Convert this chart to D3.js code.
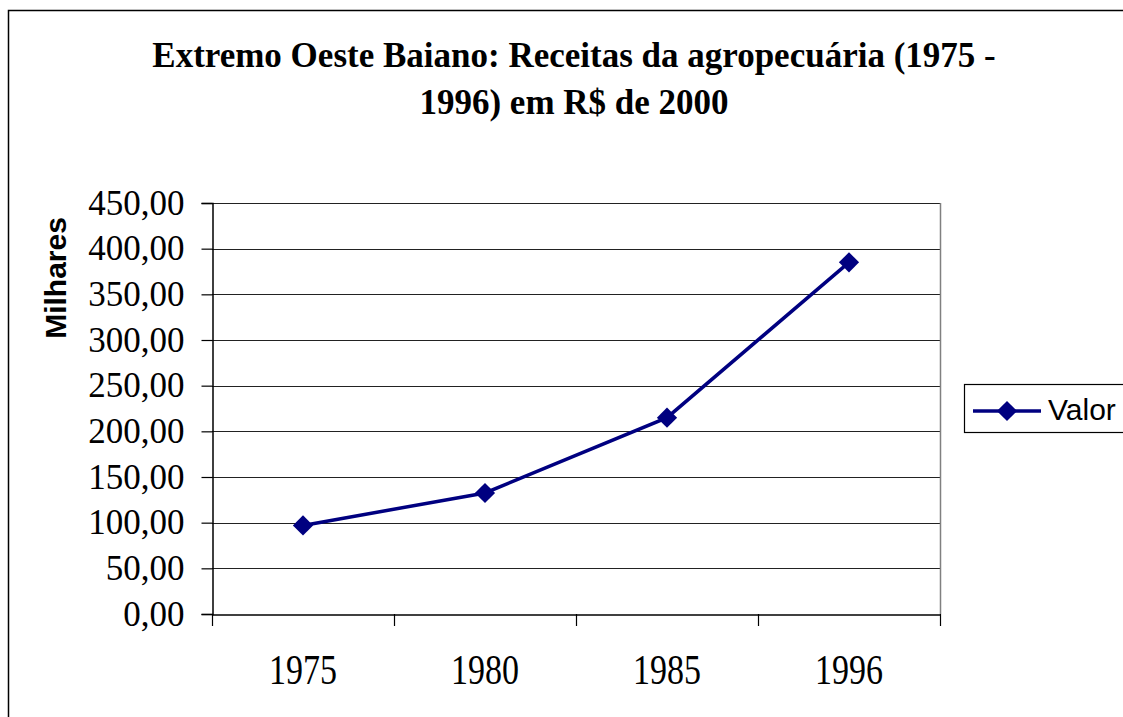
<!DOCTYPE html>
<html>
<head>
<meta charset="utf-8">
<script src="https://cdn.jsdelivr.net/npm/d3@7"></script>
<style>
  body { margin: 0; background: #fff; }
  svg { display: block; }
</style>
</head>
<body>
<svg id="chart"></svg>
<script>
// dados (milhares de R$ de 2000)
const anos = ["1975", "1980", "1985", "1996"];
const valores = [97, 132.5, 215, 385];
const yTicks = [0, 50, 100, 150, 200, 250, 300, 350, 400, 450];
const tituloLinhas = ["Extremo Oeste Baiano: Receitas da agropecuária (1975 -", "1996) em R$ de 2000"];
const serieNome = "Valor";
const eixoY = "Milhares";

const width = 1123, height = 717;
const margin = { top: 203, right: 183, bottom: 103, left: 212 };
const navy = "#000080";

const svg = d3.select("#chart")
    .attr("width", width)
    .attr("height", height);

// moldura externa do gráfico
svg.append("rect")
    .attr("x", 8.5).attr("y", 10.5)
    .attr("width", 1300).attr("height", 900)
    .attr("fill", "#fff")
    .attr("stroke", "#000")
    .attr("stroke-width", 1.5);

const x = d3.scaleBand()
    .domain(anos)
    .range([margin.left, width - margin.right])
    .padding(0);

const y = d3.scaleLinear()
    .domain([0, 450])
    .range([height - margin.bottom, margin.top]);

const serif = "'Liberation Serif', 'Times New Roman', serif";
const sans = "'Liberation Sans', Arial, sans-serif";

// título
svg.append("g")
    .selectAll("text")
    .data(tituloLinhas)
    .join("text")
    .attr("x", 574)
    .attr("y", (d, i) => 67 + i * 47)
    .attr("text-anchor", "middle")
    .attr("font-family", serif)
    .attr("font-weight", "bold")
    .attr("font-size", 35)
    .text(d => d);

// linhas de grade
svg.append("g")
    .selectAll("line")
    .data(yTicks.filter(d => d > 0))
    .join("line")
    .attr("x1", margin.left)
    .attr("x2", width - margin.right)
    .attr("y1", d => Math.round(y(d)) + 0.5)
    .attr("y2", d => Math.round(y(d)) + 0.5)
    .attr("stroke", "#222")
    .attr("stroke-width", 1.2);

// borda direita da área de plotagem
svg.append("line")
    .attr("x1", width - margin.right + 0.5)
    .attr("x2", width - margin.right + 0.5)
    .attr("y1", margin.top)
    .attr("y2", height - margin.bottom)
    .attr("stroke", "#808080")
    .attr("stroke-width", 1.5);

// eixo y
const yAxis = g => g
    .attr("transform", `translate(${margin.left + 0.5},0)`)
    .call(d3.axisLeft(y)
        .tickValues(yTicks)
        .tickFormat(d => d.toFixed(2).replace(".", ","))
        .tickSize(11)
        .tickPadding(17))
    .call(g => g.selectAll(".tick line").attr("stroke", "#000").attr("stroke-width", 1.2))
    .call(g => g.select(".domain").attr("stroke", "#000").attr("stroke-width", 1.5))
    .call(g => g.selectAll("text")
        .attr("fill", "#000")
        .attr("font-family", serif)
        .attr("font-size", 35));

svg.append("g").call(yAxis);

// eixo x (rótulos um pouco esticados na vertical, como no original)
const xAxis = g => g
    .attr("transform", `translate(0,${Math.round(y(0)) + 0.5})`)
    .call(d3.axisBottom(x).tickSize(0).tickSizeOuter(0))
    .call(g => g.select(".domain").attr("stroke", "#000").attr("stroke-width", 1.5))
    .call(g => g.selectAll("text")
        .attr("transform", "scale(1,1.25)")
        .attr("y", 70 / 1.25)
        .attr("dy", 0)
        .attr("fill", "#000")
        .attr("font-family", serif)
        .attr("font-size", 34));

svg.append("g").call(xAxis);

// marcas entre categorias
const limites = anos.map(d => x(d)).concat([x.range()[1]]);
svg.append("g")
    .selectAll("line")
    .data(limites)
    .join("line")
    .attr("x1", d => Math.round(d) + 0.5)
    .attr("x2", d => Math.round(d) + 0.5)
    .attr("y1", y(0))
    .attr("y2", y(0) + 12)
    .attr("stroke", "#000")
    .attr("stroke-width", 1.2);

// série
const dados = anos.map((a, i) => ({ ano: a, valor: valores[i] }));
const cx = d => x(d.ano) + x.bandwidth() / 2;

svg.append("path")
    .datum(dados)
    .attr("fill", "none")
    .attr("stroke", navy)
    .attr("stroke-width", 3.5)
    .attr("d", d3.line().x(cx).y(d => y(d.valor)));

const diamante = d3.symbol().type(d3.symbolDiamond2).size(260);

svg.append("g")
    .attr("fill", navy)
    .selectAll("path")
    .data(dados)
    .join("path")
    .attr("transform", d => `translate(${cx(d)},${y(d.valor)})`)
    .attr("d", diamante);

// rótulo do eixo y
svg.append("text")
    .attr("transform", "translate(66,278) rotate(-90)")
    .attr("text-anchor", "middle")
    .attr("font-family", sans)
    .attr("font-weight", "bold")
    .attr("font-size", 30)
    .text(eixoY);

// legenda
const leg = svg.append("g").attr("transform", "translate(964,384)");
leg.append("rect")
    .attr("x", 0.5).attr("y", 0.5)
    .attr("width", 200).attr("height", 48)
    .attr("fill", "#fff")
    .attr("stroke", "#000")
    .attr("stroke-width", 1.2);
leg.append("line")
    .attr("x1", 9).attr("x2", 77)
    .attr("y1", 27).attr("y2", 27)
    .attr("stroke", navy)
    .attr("stroke-width", 3.5);
leg.append("path")
    .attr("transform", "translate(43,27)")
    .attr("fill", navy)
    .attr("d", diamante);
leg.append("text")
    .attr("x", 84).attr("y", 36)
    .attr("font-family", sans)
    .attr("font-size", 30)
    .text(serieNome);
</script>
</body>
</html>
